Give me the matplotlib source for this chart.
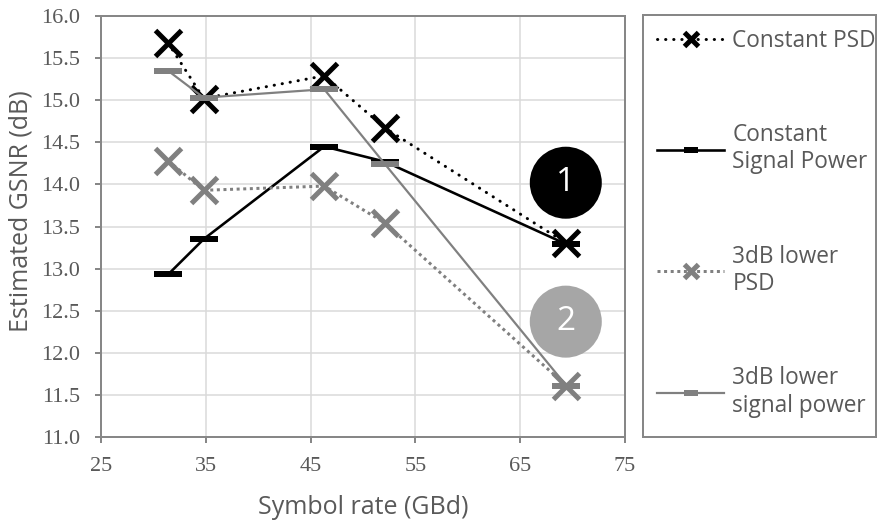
import matplotlib
matplotlib.use("Agg")
import matplotlib.pyplot as plt

symbol_rate = [31.4, 34.8, 46.3, 52.1, 69.4]
const_psd = [15.68, 15.02, 15.29, 14.67, 13.30]
const_power = [12.93, 13.35, 14.45, 14.27, 13.29]
lower_psd = [14.28, 13.93, 13.98, 13.54, 11.61]
lower_power = [15.35, 15.03, 15.13, 14.24, 11.61]
series_labels = ["Constant PSD", "Constant\nSignal Power", "3dB lower\nPSD", "3dB lower\nsignal power"]
x_ticks = [25, 35, 45, 55, 65, 75]
y_ticks = [11.0, 11.5, 12.0, 12.5, 13.0, 13.5, 14.0, 14.5, 15.0, 15.5, 16.0]
badge_labels = ["1", "2"]
badge_x = [69.35, 69.35]
badge_y = [14.02, 12.37]

PX = 72 / 100.0  # points per pixel
GRID = "#d9d9d9"
FRAME = "#878787"
TXT = "#595959"
GREY = "#808080"

fig = plt.figure(figsize=(8.78, 5.22), dpi=100)
ax = fig.add_axes([101 / 878, 85 / 522, 524 / 878, 421 / 522])

l1, = ax.plot(symbol_rate, const_psd, color="black", lw=3 * PX,
              linestyle=(0, (0.1, 2.6)), dash_capstyle="round",
              marker="x", ms=27 * PX, mew=5 * PX, zorder=3)
l2, = ax.plot(symbol_rate, const_power, color="black", lw=2.6 * PX,
              marker="_", ms=28 * PX, mew=6 * PX, zorder=3)
l3, = ax.plot(symbol_rate, lower_psd, color=GREY, lw=3 * PX,
              linestyle=(0, (1, 1.2)), marker="x", ms=27 * PX, mew=5 * PX, zorder=3)
l4, = ax.plot(symbol_rate, lower_power, color=GREY, lw=2.2 * PX,
              marker="_", ms=28 * PX, mew=6 * PX, zorder=3)

# numbered badges
ax.scatter(badge_x, badge_y, s=(72 * PX) ** 2, c=["black", "#a6a6a6"], zorder=4,
           edgecolors="none")
for bx, by, bl in zip(badge_x, badge_y, badge_labels):
    ax.text(bx, by, bl, color="white", ha="center", va="center",
            fontsize=24, family="Open Sans", zorder=5)

ax.set_xlim(25, 75)
ax.set_ylim(11.0, 16.0)
ax.set_xticks(x_ticks)
ax.set_yticks(y_ticks)
ax.set_yticklabels([f"{v:.1f}" for v in y_ticks])
ax.grid(True, color=GRID, lw=1.5 * PX, zorder=0)
ax.set_axisbelow(True)
for s in ax.spines.values():
    s.set_color(FRAME)
    s.set_linewidth(2 * PX)
ax.tick_params(direction="out", length=6 * PX, width=2 * PX, color=FRAME,
               labelcolor=TXT)
ax.tick_params(axis="x", pad=10)
ax.tick_params(axis="y", pad=10.5)
for lab in ax.get_xticklabels() + ax.get_yticklabels():
    lab.set_family("Liberation Serif")
    lab.set_fontsize(16)

ax.set_xlabel("Symbol rate (GBd)", family="Open Sans", fontsize=18, color=TXT)
ax.set_ylabel("Estimated GSNR (dB)", family="Open Sans", fontsize=18, color=TXT)
ax.xaxis.set_label_coords(0.5, -0.138)
ax.yaxis.set_label_coords(-0.128, 0.537)

# legend panel
lax = fig.add_axes([643 / 878, 85 / 522, 233 / 878, 422 / 522])
lax.set_xticks([])
lax.set_yticks([])
for s in lax.spines.values():
    s.set_color(FRAME)
    s.set_linewidth(2 * PX)
leg = lax.legend([l1, l2, l3, l4], series_labels, loc="upper left",
                 bbox_to_anchor=(0.0, 1.0), frameon=False, markerscale=0.5,
                 prop={"family": "Open Sans", "size": 16.3},
                 labelcolor=TXT, handlelength=3.0, handletextpad=0.35,
                 labelspacing=3.1, borderaxespad=0.2, borderpad=0.4)

fig.savefig("out.png", dpi=100)
